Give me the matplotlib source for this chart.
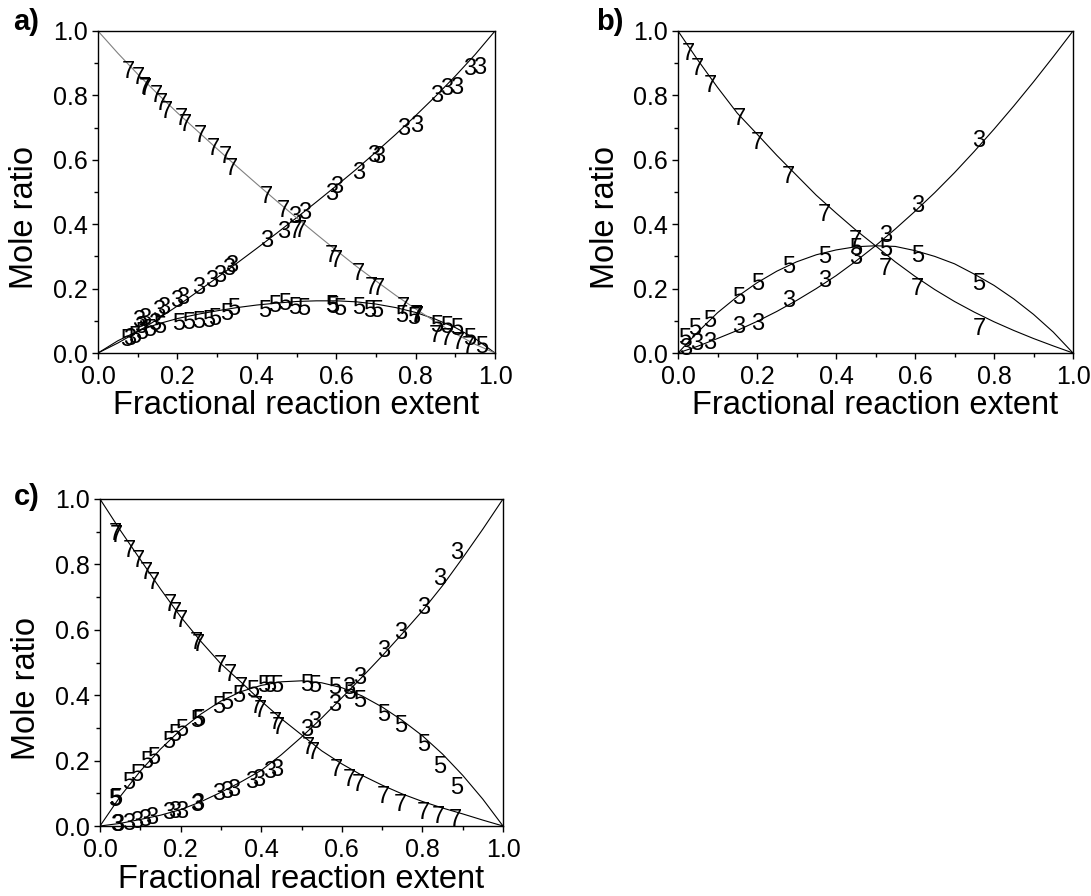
import matplotlib
matplotlib.use("Agg")
import matplotlib.pyplot as plt
from matplotlib.ticker import MultipleLocator, FormatStrFormatter

plt.rcParams['font.family'] = ['Liberation Sans', 'DejaVu Sans']

# Curvas del modelo (cada 0.05)
curva_x = [0.0, 0.05, 0.1, 0.15, 0.2, 0.25, 0.3, 0.35, 0.4, 0.45, 0.5,
           0.55, 0.6, 0.65, 0.7, 0.75, 0.8, 0.85, 0.9, 0.95, 1.0]

a_curva3 = [0.0, 0.031, 0.066, 0.105, 0.146, 0.19, 0.234, 0.279, 0.325, 0.372, 0.42,
            0.469, 0.519, 0.57, 0.624, 0.679, 0.737, 0.797, 0.86, 0.927, 1.0]
a_curva5 = [0.0, 0.038, 0.068, 0.09, 0.107, 0.12, 0.131, 0.141, 0.149, 0.155, 0.16,
            0.162, 0.162, 0.159, 0.152, 0.141, 0.126, 0.105, 0.079, 0.045, 0.0]
a_curva7 = [1.0, 0.931, 0.866, 0.805, 0.746, 0.69, 0.634, 0.579, 0.525, 0.472, 0.42,
            0.369, 0.319, 0.27, 0.224, 0.179, 0.137, 0.097, 0.06, 0.027, 0.0]

b_curva3 = [0.0, 0.021, 0.045, 0.07, 0.098, 0.129, 0.163, 0.2, 0.24, 0.285, 0.333,
            0.385, 0.44, 0.498, 0.56, 0.626, 0.695, 0.767, 0.842, 0.92, 1.0]
b_curva5 = [0.0, 0.065, 0.125, 0.175, 0.218, 0.254, 0.283, 0.305, 0.32, 0.33, 0.333,
            0.331, 0.318, 0.3, 0.277, 0.245, 0.21, 0.168, 0.12, 0.065, 0.0]
b_curva7 = [1.0, 0.91, 0.825, 0.745, 0.68, 0.614, 0.552, 0.49, 0.435, 0.382, 0.333,
            0.283, 0.238, 0.197, 0.16, 0.127, 0.097, 0.07, 0.045, 0.022, 0.0]

c_curva3 = [0.0, 0.008, 0.02, 0.033, 0.05, 0.074, 0.103, 0.135, 0.17, 0.218, 0.272,
            0.33, 0.392, 0.455, 0.52, 0.588, 0.658, 0.735, 0.82, 0.908, 1.0]
c_curva5 = [0.0, 0.09, 0.168, 0.235, 0.294, 0.342, 0.382, 0.411, 0.43, 0.441, 0.444,
            0.438, 0.423, 0.398, 0.364, 0.323, 0.276, 0.22, 0.155, 0.082, 0.0]
c_curva7 = [1.0, 0.905, 0.815, 0.725, 0.64, 0.565, 0.496, 0.44, 0.382, 0.328, 0.279,
            0.23, 0.19, 0.155, 0.125, 0.098, 0.075, 0.055, 0.037, 0.018, 0.0]

# Puntos (simbolos 3, 5, 7)
a_x3 = [0.080, 0.102, 0.108, 0.117, 0.143, 0.152, 0.165, 0.198, 0.212, 0.253, 0.286, 0.307,
        0.328, 0.337, 0.425, 0.467, 0.496, 0.521, 0.589, 0.601, 0.656, 0.694, 0.706, 0.769,
        0.803, 0.853, 0.878, 0.903, 0.937, 0.962]
a_y3 = [0.052, 0.108, 0.088, 0.113, 0.098, 0.139, 0.149, 0.170, 0.180, 0.211, 0.232, 0.247,
        0.268, 0.278, 0.356, 0.382, 0.429, 0.444, 0.501, 0.522, 0.568, 0.620, 0.615, 0.703,
        0.713, 0.806, 0.827, 0.832, 0.889, 0.894]
a_x5 = [0.072, 0.093, 0.110, 0.131, 0.156, 0.202, 0.228, 0.253, 0.278, 0.295, 0.324, 0.341,
        0.421, 0.446, 0.471, 0.496, 0.517, 0.589, 0.591, 0.610, 0.656, 0.685, 0.702, 0.765,
        0.794, 0.853, 0.878, 0.903, 0.937, 0.966]
a_y5 = [0.048, 0.056, 0.071, 0.080, 0.087, 0.097, 0.102, 0.105, 0.108, 0.113, 0.128, 0.144,
        0.139, 0.154, 0.159, 0.149, 0.144, 0.154, 0.150, 0.144, 0.149, 0.139, 0.139, 0.123,
        0.118, 0.092, 0.087, 0.082, 0.051, 0.025]
a_x7 = [0.076, 0.102, 0.117, 0.119, 0.148, 0.160, 0.173, 0.209, 0.221, 0.257, 0.291, 0.322,
        0.335, 0.425, 0.467, 0.496, 0.509, 0.589, 0.601, 0.656, 0.689, 0.706, 0.769, 0.803,
        0.805, 0.849, 0.878, 0.908, 0.933]
a_y7 = [0.881, 0.863, 0.832, 0.828, 0.806, 0.780, 0.755, 0.736, 0.715, 0.682, 0.641, 0.615,
        0.579, 0.491, 0.449, 0.382, 0.388, 0.310, 0.294, 0.253, 0.211, 0.206, 0.149, 0.123,
        0.120, 0.061, 0.051, 0.040, 0.025]

b_x3 = [0.020, 0.047, 0.080, 0.153, 0.201, 0.280, 0.371, 0.449, 0.525, 0.606, 0.762]
b_y3 = [0.020, 0.035, 0.040, 0.087, 0.097, 0.170, 0.232, 0.304, 0.372, 0.465, 0.667]
b_x5 = [0.018, 0.043, 0.080, 0.153, 0.201, 0.280, 0.371, 0.449, 0.525, 0.606, 0.762]
b_y5 = [0.051, 0.082, 0.108, 0.180, 0.222, 0.275, 0.306, 0.330, 0.327, 0.310, 0.222]
b_x7 = [0.026, 0.049, 0.081, 0.155, 0.201, 0.280, 0.371, 0.449, 0.525, 0.606, 0.762]
b_y7 = [0.936, 0.889, 0.837, 0.734, 0.661, 0.553, 0.436, 0.356, 0.268, 0.206, 0.082]

c_x3 = [0.041, 0.044, 0.070, 0.091, 0.112, 0.128, 0.170, 0.186, 0.203, 0.240, 0.243, 0.294,
        0.314, 0.331, 0.376, 0.393, 0.422, 0.438, 0.513, 0.533, 0.583, 0.616, 0.645, 0.703,
        0.745, 0.802, 0.844, 0.885]
c_y3 = [0.010, 0.012, 0.015, 0.020, 0.026, 0.031, 0.046, 0.051, 0.051, 0.072, 0.074, 0.107,
        0.112, 0.118, 0.143, 0.148, 0.174, 0.179, 0.302, 0.327, 0.378, 0.429, 0.460, 0.542,
        0.598, 0.675, 0.762, 0.844]
c_x5 = [0.037, 0.040, 0.070, 0.091, 0.116, 0.132, 0.170, 0.186, 0.203, 0.240, 0.244, 0.294,
        0.314, 0.343, 0.380, 0.405, 0.422, 0.438, 0.513, 0.533, 0.583, 0.620, 0.645, 0.703,
        0.745, 0.802, 0.844, 0.885]
c_y5 = [0.087, 0.090, 0.138, 0.164, 0.204, 0.215, 0.266, 0.286, 0.302, 0.330, 0.332, 0.373,
        0.383, 0.404, 0.419, 0.435, 0.435, 0.435, 0.440, 0.437, 0.429, 0.414, 0.389, 0.348,
        0.312, 0.256, 0.189, 0.123]
c_x7 = [0.037, 0.040, 0.074, 0.095, 0.116, 0.132, 0.174, 0.186, 0.203, 0.240, 0.243, 0.298,
        0.323, 0.352, 0.389, 0.397, 0.434, 0.442, 0.517, 0.529, 0.587, 0.620, 0.641, 0.703,
        0.745, 0.802, 0.839, 0.881]
c_y7 = [0.900, 0.895, 0.849, 0.818, 0.782, 0.752, 0.685, 0.660, 0.634, 0.567, 0.562, 0.496,
        0.470, 0.429, 0.373, 0.358, 0.322, 0.307, 0.245, 0.230, 0.179, 0.148, 0.133, 0.097,
        0.072, 0.046, 0.036, 0.026]

W, H = 1091, 896
fig = plt.figure(figsize=(W / 100, H / 100), dpi=100)
ax_a = fig.add_axes([98 / W, 1 - 353 / H, 397 / W, 322 / H])
ax_b = fig.add_axes([678 / W, 1 - 353 / H, 395 / W, 322 / H])
ax_c = fig.add_axes([100 / W, 1 - 826 / H, 403 / W, 327 / H])


def dibujar_simbolos(ax, xs, ys, simbolo):
    for x, y in zip(xs, ys):
        ax.text(x, y, simbolo, fontsize=17, ha="center", va="center_baseline", color="black")


def estilo(ax, xlab_y):
    ax.set_xlim(0, 1)
    ax.set_ylim(0, 1)
    ax.xaxis.set_major_locator(MultipleLocator(0.2))
    ax.yaxis.set_major_locator(MultipleLocator(0.2))
    ax.xaxis.set_minor_locator(MultipleLocator(0.1))
    ax.yaxis.set_minor_locator(MultipleLocator(0.1))
    ax.xaxis.set_major_formatter(FormatStrFormatter("%.1f"))
    ax.yaxis.set_major_formatter(FormatStrFormatter("%.1f"))
    ax.tick_params(which="major", direction="out", length=4.5, width=1, labelsize=18)
    ax.tick_params(which="minor", direction="out", length=3, width=1)
    ax.tick_params(axis="x", which="major", pad=4)
    ax.tick_params(axis="y", which="major", pad=3)
    for s in ax.spines.values():
        s.set_linewidth(1)
    ax.set_xlabel("Fractional reaction extent", fontsize=23.5)
    ax.set_ylabel("Mole ratio", fontsize=23.5)
    ax.xaxis.set_label_coords(0.5, xlab_y)
    ax.yaxis.set_label_coords(-0.145, 0.42)


# a)
ax_a.plot(curva_x, a_curva3, color="black", lw=0.8)
ax_a.plot(curva_x, a_curva5, color="black", lw=0.8)
ax_a.plot(curva_x, a_curva7, color="#808080", lw=0.8)
dibujar_simbolos(ax_a, a_x3, a_y3, "3")
dibujar_simbolos(ax_a, a_x5, a_y5, "5")
dibujar_simbolos(ax_a, a_x7, a_y7, "7")
estilo(ax_a, -0.115)

# b)
ax_b.plot(curva_x, b_curva3, color="black", lw=0.8)
ax_b.plot(curva_x, b_curva5, color="black", lw=0.8)
ax_b.plot(curva_x, b_curva7, color="black", lw=0.8)
dibujar_simbolos(ax_b, b_x3, b_y3, "3")
dibujar_simbolos(ax_b, b_x5, b_y5, "5")
dibujar_simbolos(ax_b, b_x7, b_y7, "7")
estilo(ax_b, -0.115)

# c)
ax_c.plot(curva_x, c_curva3, color="black", lw=0.8)
ax_c.plot(curva_x, c_curva5, color="black", lw=0.8)
ax_c.plot(curva_x, c_curva7, color="black", lw=0.8)
dibujar_simbolos(ax_c, c_x3, c_y3, "3")
dibujar_simbolos(ax_c, c_x5, c_y5, "5")
dibujar_simbolos(ax_c, c_x7, c_y7, "7")
estilo(ax_c, -0.117)

fig.text(13 / W, 1 - 30 / H, "a)", fontsize=21, fontweight="bold")
fig.text(596 / W, 1 - 30 / H, "b)", fontsize=21, fontweight="bold")
fig.text(14 / W, 1 - 505 / H, "c)", fontsize=21, fontweight="bold")

fig.savefig("out.png", dpi=100)
